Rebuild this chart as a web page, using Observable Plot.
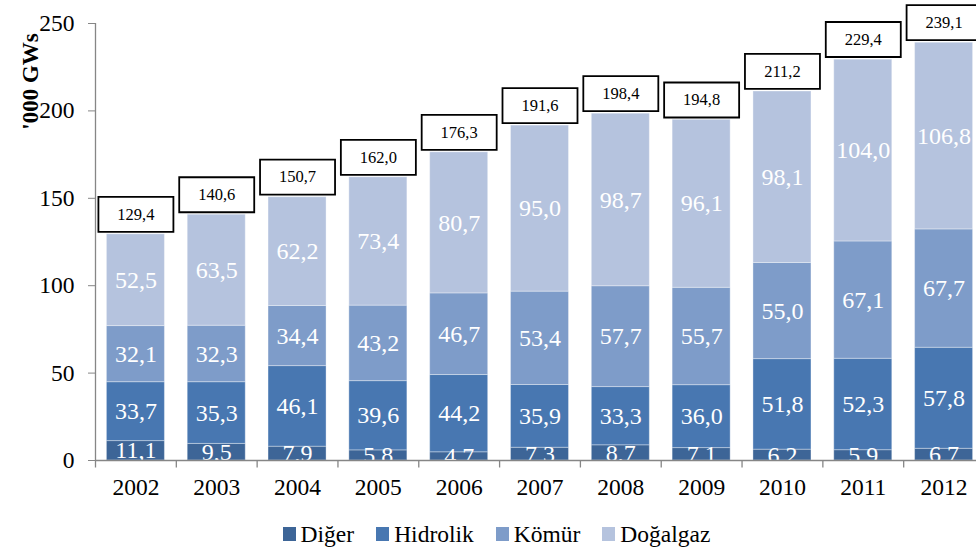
<!DOCTYPE html>
<html><head><meta charset="utf-8">
<script src="https://cdn.jsdelivr.net/npm/d3@7"></script>
<script src="https://cdn.jsdelivr.net/npm/@observablehq/plot@0.6"></script>
<style>
html,body{margin:0;padding:0;background:#fff;overflow:hidden;}
body, body *, #chart svg, #chart svg text, #chart svg tspan, #legend, #legend span {font-family:"Liberation Serif","Times New Roman",serif !important;}
#legend{display:flex;justify-content:center;align-items:center;height:38px;padding-left:17px;font-size:23.5px;color:#000;}
#legend .item{display:flex;align-items:center;margin:0 11px;}
#legend .sw{width:13px;height:14px;margin-right:5px;}
</style></head>
<body><div id="chart"></div><div id="legend"></div>
<script>
const years = ["2002","2003","2004","2005","2006","2007","2008","2009","2010","2011","2012"];
const diger    = [11.1, 9.5, 7.9, 5.8, 4.7, 7.3, 8.7, 7.1, 6.2, 5.9, 6.7];
const hidrolik = [33.7, 35.3, 46.1, 39.6, 44.2, 35.9, 33.3, 36.0, 51.8, 52.3, 57.8];
const komur    = [32.1, 32.3, 34.4, 43.2, 46.7, 53.4, 57.7, 55.7, 55.0, 67.1, 67.7];
const dogalgaz = [52.5, 63.5, 62.2, 73.4, 80.7, 95.0, 98.7, 96.1, 98.1, 104.0, 106.8];
const totals   = [129.4, 140.6, 150.7, 162.0, 176.3, 191.6, 198.4, 194.8, 211.2, 229.4, 239.1];
const seriesNames = ["Diğer", "Hidrolik", "Kömür", "Doğalgaz"];
const seriesColors = ["#3d6597", "#4877b1", "#7e9cc9", "#b5c3de"];
const yTicks = [0, 50, 100, 150, 200, 250];
const yTitle = "'000 GWs";

const seriesValues = [diger, hidrolik, komur, dogalgaz];
const rows = [];
seriesNames.forEach((s, si) => years.forEach((y, i) => rows.push({year: y, series: s, value: seriesValues[si][i]})));
const totalRows = years.map((y, i) => ({year: y, total: totals[i]}));
const fmt = v => v.toFixed(1).replace(".", ",");

const FONT = "Liberation Serif";
const W = 976, H = 515, mL = 95, mR = -8;
const half = (W - mR - mL) / years.length / 2;
const axisColor = "#868686";
const boxSymbol = {draw(ctx) { ctx.rect(-37.5, -17.5, 75, 35); }};
const tickSymbol = {draw(ctx) { ctx.moveTo(0, 0); ctx.lineTo(0, 7); }};

const chart = Plot.plot({
  width: W, height: H,
  marginTop: 23, marginBottom: 55, marginLeft: mL, marginRight: mR,
  style: {fontFamily: FONT, fontSize: "23.5px", color: "#000", background: "#fff", overflow: "visible"},
  x: {domain: years, padding: 0, round: false, axis: null},
  y: {domain: [0, 250], axis: null},
  color: {domain: seriesNames, range: seriesColors},
  marks: [
    Plot.barY(rows, {x: "year", y: "value", fill: "series", z: "series", order: seriesNames,
      insetLeft: 11.4, insetRight: 11.4, stroke: "#ffffff", strokeOpacity: 0.35, strokeWidth: 1}),
    Plot.text(rows, Plot.stackY({x: "year", y: "value", z: "series", order: seriesNames,
      text: d => fmt(d.value), fill: "white", fontSize: 24, fontFamily: FONT, clip: true})),
    Plot.ruleY([0], {stroke: axisColor, strokeWidth: 1.3}),
    Plot.ruleX([years[0]], {x: d => d, dx: -half, stroke: axisColor, strokeWidth: 1.3}),
    Plot.dot(years, {x: d => d, y: () => 0, dx: -half, symbol: tickSymbol, stroke: axisColor, fill: "none", strokeWidth: 1.3}),
    Plot.axisY({ticks: yTicks, tickSize: 7, tickPadding: 14, stroke: axisColor, fontSize: 23.5, fontFamily: FONT, tickFormat: d => String(d)}),
    Plot.text(years, {x: d => d, y: () => 0, dy: 27, text: d => d, fontSize: 23.5, fontFamily: FONT, fill: "#000"}),
    Plot.dot(totalRows, {x: "year", y: "total", dy: -20, symbol: boxSymbol, fill: "white", stroke: "black", strokeWidth: 1.8}),
    Plot.text(totalRows, {x: "year", y: "total", dy: -20, text: d => fmt(d.total), fontSize: 16.5, fontFamily: FONT, fill: "#000"}),
    Plot.text([yTitle], {frameAnchor: "top-left", dx: -74, dy: 58, rotate: -90, text: d => d, fontWeight: "bold", fontSize: 23, fontFamily: FONT, fill: "#000", textAnchor: "middle"})
  ]
});
document.getElementById("chart").appendChild(chart);

const legend = document.getElementById("legend");
seriesNames.forEach((s, i) => {
  const item = document.createElement("div"); item.className = "item";
  const sw = document.createElement("span"); sw.className = "sw"; sw.style.background = seriesColors[i];
  const tx = document.createElement("span"); tx.textContent = s;
  item.appendChild(sw); item.appendChild(tx); legend.appendChild(item);
});
</script>
</body></html>
